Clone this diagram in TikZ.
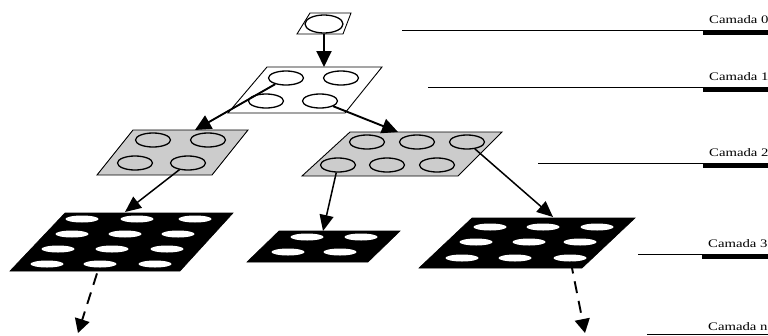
\documentclass[tikz,border=0pt]{standalone}
\usepackage{fontspec}
\setmainfont{Liberation Serif}
\usetikzlibrary{arrows.meta,shapes.geometric}
\newcommand{\layerfont}{\fontsize{11.5}{14}\selectfont}
\newcommand{\layertext}[1]{\layerfont\scalebox{1.28}[1]{#1}}
\begin{document}
\begin{tikzpicture}[x=1pt,y=-1pt,
  plate/.style={draw=black,line width=0.9pt,line join=miter},
  lightplate/.style={plate,fill=white},
  greyplate/.style={plate,fill=black!20},
  darkplate/.style={fill=black,draw=black,line width=0.6pt},
  ring/.style={ellipse,draw=black,line width=1.3pt,inner sep=0pt,
    minimum width=35pt,minimum height=14pt},
  hole/.style={ellipse,fill=white,inner sep=0pt,
    minimum width=33pt,minimum height=7pt},
  bigarrow/.style={line width=1.9pt,-{Triangle[length=16pt,width=15pt]}},
  thinarrow/.style={line width=1.5pt,-{Triangle[length=16pt,width=14pt]}},
  dasharrow/.style={line width=1.9pt,dash pattern=on 12pt off 8pt,
    -{Triangle[length=14pt,width=15pt]}},
  rule/.style={line width=0.9pt},
  bar/.style={line width=3.4pt},
  layer/.style={anchor=base west,inner sep=0pt}
]
\useasboundingbox (0,0) rectangle (768,335);
\clip (0,0) rectangle (768,335);

% ---- level 0
\draw[lightplate] (310,13) -- (351,13) -- (343,34) -- (297,34) -- cycle;
\node[ring,minimum width=38pt,minimum height=18pt] (r0) at (324,24) {};

% ---- level 1
\draw[lightplate] (267,67) -- (382,67) -- (345,113) -- (228,113) -- cycle;
\node[ring] (r1a) at (286,78) {};
\node[ring] (r1b) at (341,78) {};
\node[ring] (r1c) at (266,101) {};
\node[ring] (r1d) at (320,101) {};

% ---- level 2
\draw[greyplate] (133,130) -- (248,130) -- (212,175) -- (97,175) -- cycle;
\node[ring] (r2a) at (153,140) {};
\node[ring] (r2b) at (208,140) {};
\node[ring] (r2c) at (135,163) {};
\node[ring] (r2d) at (188,163) {};

\draw[greyplate] (350,132) -- (502,132) -- (458,176) -- (302,176) -- cycle;
\node[ring] (s2a) at (367,142) {};
\node[ring] (s2b) at (417,142) {};
\node[ring] (s2c) at (467,142) {};
\node[ring] (s2d) at (338,165) {};
\node[ring] (s2e) at (387,165) {};
\node[ring] (s2f) at (437,165) {};

% ---- level 3
\draw[darkplate] (65,213) -- (233,213) -- (180,271) -- (10,271) -- cycle;
\foreach \x/\n in {82/1,137/2,195/3} \node[hole] (a1\n) at (\x,219) {};
\foreach \x/\n in {72/1,125/2,178/3} \node[hole] (a2\n) at (\x,234) {};
\foreach \x/\n in {58/1,112/2,167/3} \node[hole] (a3\n) at (\x,249) {};
\foreach \x/\n in {47/1,100/2,155/3} \node[hole] (a4\n) at (\x,264) {};

\draw[darkplate] (279,231) -- (400,231) -- (368,262) -- (247,262) -- cycle;
\node[hole] (b11) at (307,237) {};
\node[hole] (b12) at (361,237) {};
\node[hole] (b21) at (288,252) {};
\node[hole] (b22) at (340,252) {};

\draw[darkplate] (472,218) -- (635,218) -- (582,268) -- (419,268) -- cycle;
\foreach \x/\n in {490/1,543/2,597/3} \node[hole] (c1\n) at (\x,227) {};
\foreach \x/\n in {476/1,529/2,580/3} \node[hole] (c2\n) at (\x,242) {};
\foreach \x/\n in {462/1,515/2,570/3} \node[hole] (c3\n) at (\x,258) {};

% ---- arrow targets on the plates below
\coordinate (t1)  at (324,67);
\coordinate (t2a) at (195,130);
\coordinate (t2b) at (398,132);
\coordinate (t3a) at (125,212);
\coordinate (t3b) at (323,231);
\coordinate (t3c) at (553,217);
\coordinate (tna) at (78,333);
\coordinate (tnc) at (585,333);

\draw[bigarrow] (r0) -- (t1);
\draw[bigarrow] (r1a) -- (t2a);
\draw[bigarrow] (r1d) -- (t2b);
\draw[thinarrow] (r2d) -- (t3a);
\draw[thinarrow] (s2d) -- (t3b);
\draw[thinarrow] (s2c) -- (t3c);
\draw[dasharrow,shorten <=6pt] (a42) -- (tna);
\draw[dasharrow] (c33) -- (tnc);

% ---- layer labels with their rules
\node[layer] (L0) at (709,23)  {\layertext{Camada 0}};
\node[layer] (L1) at (709,80)  {\layertext{Camada 1}};
\node[layer] (L2) at (709,156) {\layertext{Camada 2}};
\node[layer] (L3) at (708,247) {\layertext{Camada 3}};
\node[layer] (Ln) at (708,330) {\layertext{Camada n}};

\coordinate (u0) at (402,30.5);
\coordinate (u1) at (428,87.5);
\coordinate (u2) at (538,163);
\coordinate (u3) at (638,254);
\coordinate (un) at (647,334);

\foreach \u/\L in {u0/L0,u1/L1,u2/L2,u3/L3}{
  \draw[rule] (\u) -- (\u -| 770,0);
  \draw[bar] ([xshift=-6pt,yshift=-10pt]\L.base west) -- ++(70pt,0pt);
}
\draw[rule] (un) -- (un -| 770,0);
\end{tikzpicture}
\end{document}
